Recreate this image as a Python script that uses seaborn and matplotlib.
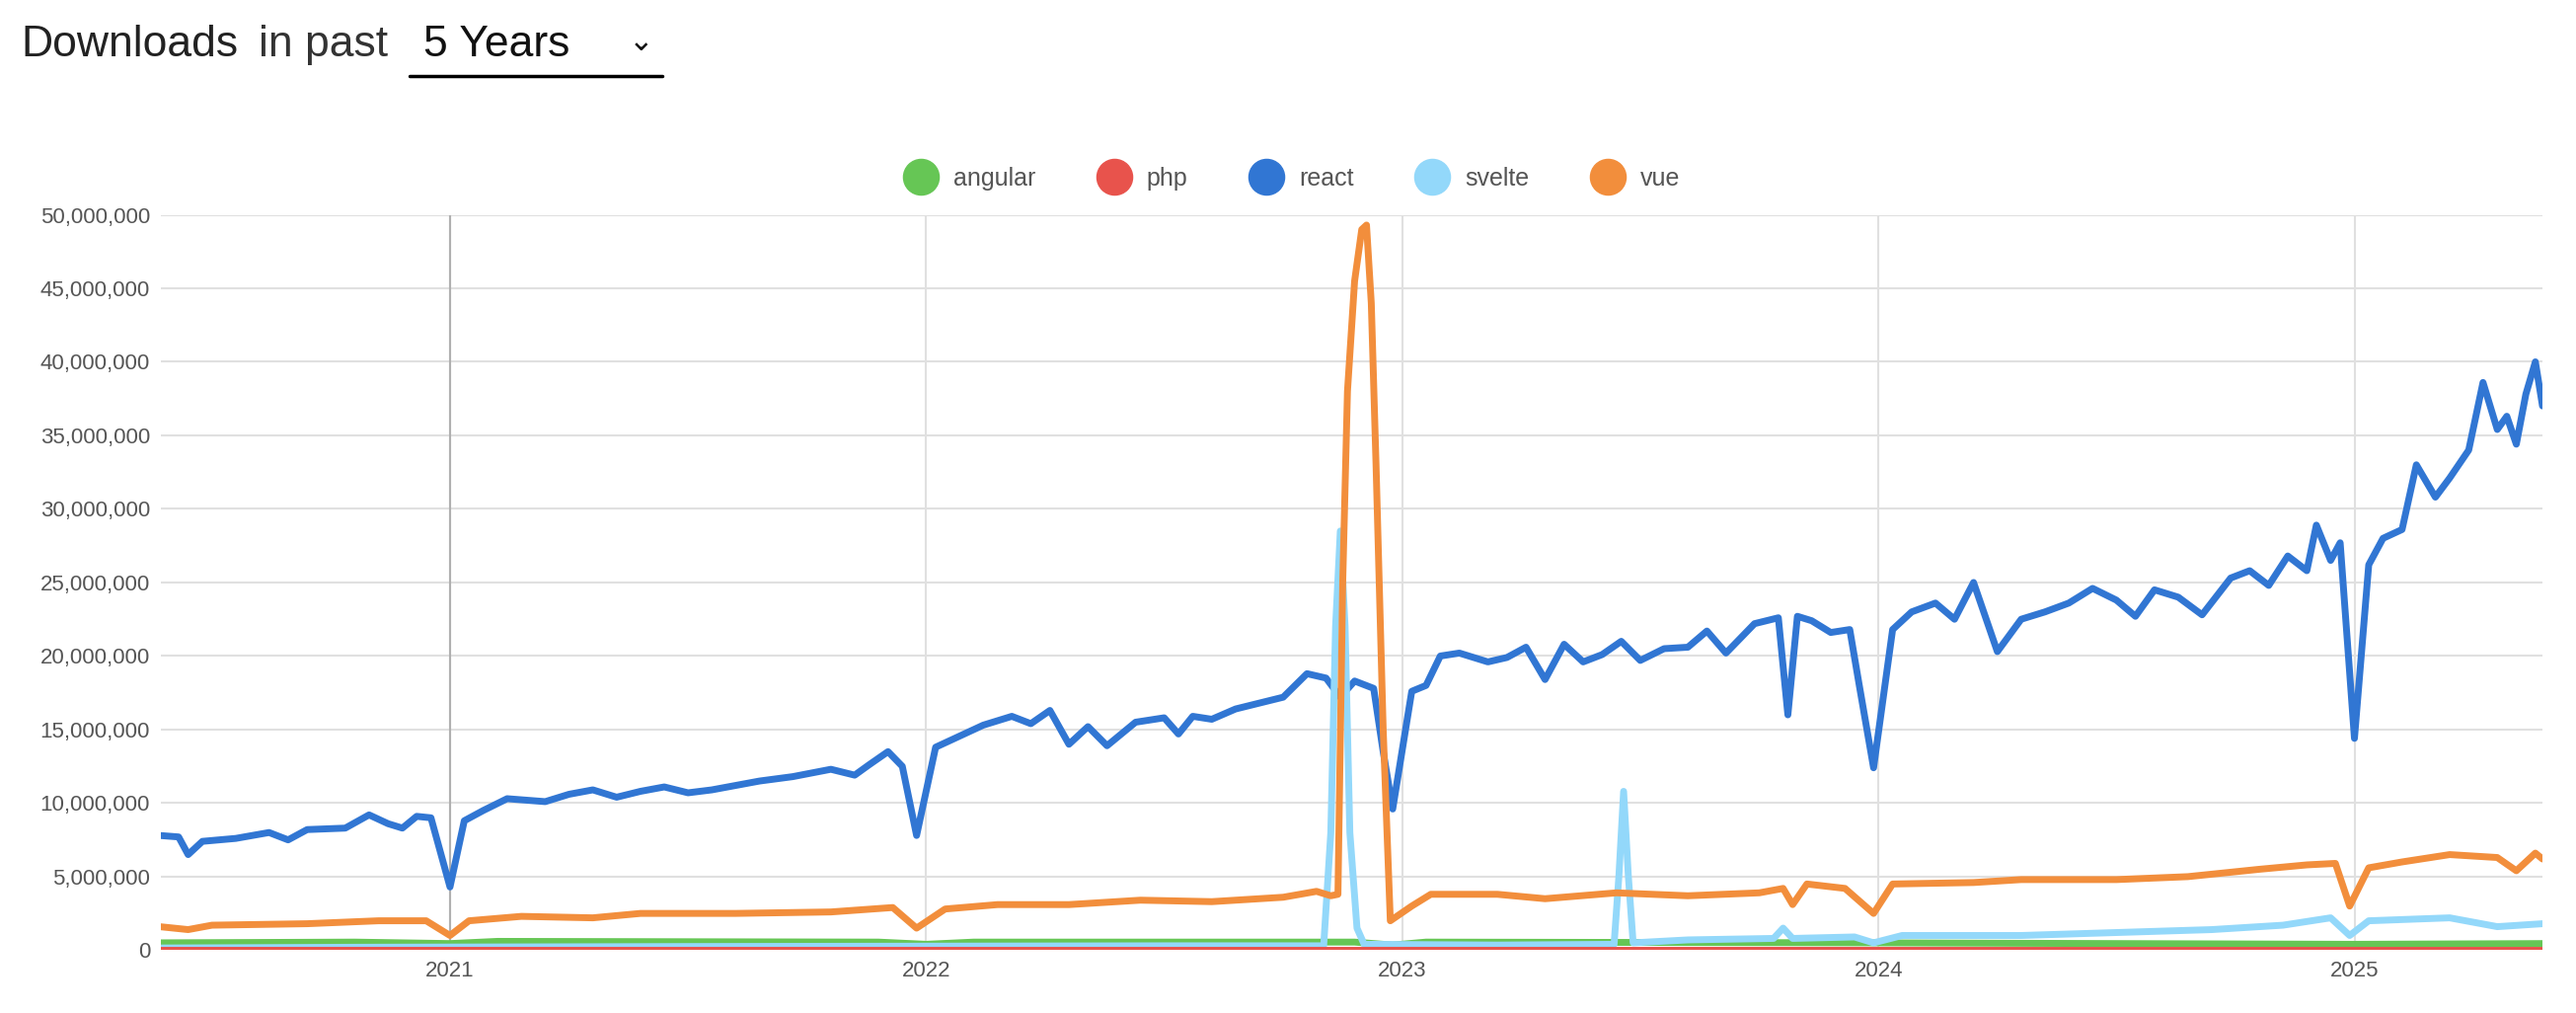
import matplotlib
matplotlib.use("Agg")
import matplotlib.pyplot as plt
import seaborn as sns
import pandas as pd
from matplotlib.ticker import FuncFormatter
from matplotlib.lines import Line2D

# (decimal year, millions of weekly downloads)
react_pts = [(2020.39,7.8),(2020.43,7.7),(2020.45,6.5),(2020.48,7.4),(2020.55,7.6),(2020.62,8.0),(2020.66,7.5),(2020.7,8.2),(2020.78,8.3),(2020.83,9.2),(2020.87,8.6),(2020.9,8.3),(2020.93,9.1),(2020.96,9.0),(2021.0,4.3),(2021.03,8.8),(2021.07,9.5),(2021.12,10.3),(2021.2,10.1),(2021.25,10.6),(2021.3,10.9),(2021.35,10.4),(2021.4,10.8),(2021.45,11.1),(2021.5,10.7),(2021.55,10.9),(2021.6,11.2),(2021.65,11.5),(2021.72,11.8),(2021.8,12.3),(2021.85,11.9),(2021.88,12.6),(2021.92,13.5),(2021.95,12.5),(2021.98,7.8),(2022.02,13.8),(2022.06,14.4),(2022.12,15.3),(2022.18,15.9),(2022.22,15.4),(2022.26,16.3),(2022.3,14.0),(2022.34,15.2),(2022.38,13.9),(2022.44,15.5),(2022.5,15.8),(2022.53,14.7),(2022.56,15.9),(2022.6,15.7),(2022.65,16.4),(2022.7,16.8),(2022.75,17.2),(2022.8,18.8),(2022.84,18.5),(2022.87,17.2),(2022.9,18.3),(2022.94,17.8),(2022.96,13.5),(2022.98,9.6),(2023.02,17.6),(2023.05,18.0),(2023.08,20.0),(2023.12,20.2),(2023.18,19.6),(2023.22,19.9),(2023.26,20.6),(2023.3,18.4),(2023.34,20.8),(2023.38,19.6),(2023.42,20.1),(2023.46,21.0),(2023.5,19.7),(2023.55,20.5),(2023.6,20.6),(2023.64,21.7),(2023.68,20.2),(2023.74,22.2),(2023.79,22.6),(2023.81,16.0),(2023.83,22.7),(2023.86,22.4),(2023.9,21.6),(2023.94,21.8),(2023.96,18.0),(2023.99,12.4),(2024.03,21.8),(2024.07,23.0),(2024.12,23.6),(2024.16,22.5),(2024.2,25.0),(2024.25,20.3),(2024.3,22.5),(2024.35,23.0),(2024.4,23.6),(2024.45,24.6),(2024.5,23.8),(2024.54,22.7),(2024.58,24.5),(2024.63,24.0),(2024.68,22.8),(2024.74,25.3),(2024.78,25.8),(2024.82,24.8),(2024.86,26.8),(2024.9,25.8),(2024.92,28.9),(2024.95,26.5),(2024.97,27.7),(2025.0,14.4),(2025.03,26.2),(2025.06,28.0),(2025.1,28.6),(2025.13,33.0),(2025.17,30.8),(2025.2,32.1),(2025.24,34.0),(2025.27,38.6),(2025.3,35.4),(2025.32,36.3),(2025.34,34.4),(2025.36,37.8),(2025.38,40.0),(2025.395,37.0)]
vue_pts = [(2020.39,1.6),(2020.45,1.4),(2020.5,1.7),(2020.7,1.8),(2020.85,2.0),(2020.95,2.0),(2021.0,1.0),(2021.04,2.0),(2021.15,2.3),(2021.3,2.2),(2021.4,2.5),(2021.6,2.5),(2021.8,2.6),(2021.93,2.9),(2021.98,1.5),(2022.04,2.8),(2022.15,3.1),(2022.3,3.1),(2022.45,3.4),(2022.6,3.3),(2022.75,3.6),(2022.82,4.0),(2022.85,3.7),(2022.865,3.8),(2022.875,25.0),(2022.885,38.0),(2022.9,45.5),(2022.915,49.0),(2022.925,49.3),(2022.935,44.0),(2022.945,33.0),(2022.96,15.0),(2022.975,2.0),(2023.02,3.0),(2023.06,3.8),(2023.2,3.8),(2023.3,3.5),(2023.45,3.9),(2023.6,3.7),(2023.75,3.9),(2023.8,4.2),(2023.82,3.1),(2023.85,4.5),(2023.93,4.2),(2023.99,2.5),(2024.03,4.5),(2024.2,4.6),(2024.3,4.8),(2024.5,4.8),(2024.65,5.0),(2024.8,5.5),(2024.9,5.8),(2024.96,5.9),(2024.99,3.0),(2025.03,5.6),(2025.1,6.0),(2025.2,6.5),(2025.3,6.3),(2025.34,5.4),(2025.38,6.6),(2025.395,6.2)]
svelte_pts = [(2020.39,0.15),(2020.8,0.2),(2021.5,0.25),(2022.5,0.3),(2022.835,0.3),(2022.85,8.0),(2022.86,22.0),(2022.87,28.5),(2022.88,22.0),(2022.89,8.0),(2022.905,1.5),(2022.92,0.4),(2023.2,0.35),(2023.445,0.4),(2023.455,5.0),(2023.465,10.8),(2023.475,5.0),(2023.485,0.5),(2023.6,0.7),(2023.78,0.8),(2023.8,1.5),(2023.82,0.8),(2023.95,0.9),(2023.99,0.5),(2024.05,1.0),(2024.3,1.0),(2024.5,1.2),(2024.7,1.4),(2024.85,1.7),(2024.95,2.2),(2024.99,1.0),(2025.03,2.0),(2025.2,2.2),(2025.3,1.6),(2025.395,1.8)]
angular_pts = [(2020.39,0.5),(2020.8,0.55),(2021.0,0.45),(2021.1,0.6),(2021.9,0.55),(2022.0,0.4),(2022.1,0.55),(2022.9,0.55),(2022.98,0.35),(2023.05,0.55),(2024.0,0.5),(2024.5,0.45),(2025.0,0.4),(2025.395,0.45)]
php_pts = [(2020.39,0.05),(2025.395,0.05)]

series_names = ["angular", "php", "react", "svelte", "vue"]
series_colors = ["#66c655", "#e8534c", "#3176d3", "#93d8fa", "#f28e3c"]
series_pts = [angular_pts, php_pts, react_pts, svelte_pts, vue_pts]
year_ticks = [2021, 2022, 2023, 2024, 2025]

rows = []
for name, pts in zip(series_names, series_pts):
    for t, v in pts:
        rows.append({"t": t, "downloads": v * 1e6, "pkg": name})
df = pd.DataFrame(rows)

sns.set_style("white")
plt.rcParams['font.family'] = ['Liberation Sans', 'DejaVu Sans']
fig = plt.figure(figsize=(26.1, 10.26), dpi=100)
ax = fig.add_axes([0.0625, 0.062, 0.9245, 0.726])
pal = dict(zip(series_names, series_colors))
for name in series_names:
    sub = df[df.pkg == name]
    sns.lineplot(data=sub, x="t", y="downloads", color=pal[name], lw=5, ax=ax, legend=False,
                 zorder=3 if name != "php" else 4, solid_joinstyle="round", solid_capstyle="round")

ax.set_xlim(2020.393, 2025.395)
ax.set_ylim(0, 50e6)
ax.set_yticks(range(0, 50_000_001, 5_000_000))
ax.yaxis.set_major_formatter(FuncFormatter(lambda v, p: f"{int(v):,}"))
ax.set_xticks(year_ticks)
ax.set_xticklabels([str(y) for y in year_ticks])
ax.grid(True, color="#e0e0e0", lw=1.5)
ax.set_axisbelow(True)
for s in ax.spines.values():
    s.set_visible(False)
ax.axvline(2021, color="#b0b0b0", lw=1.5, zorder=1)
ax.set_xlabel("")
ax.set_ylabel("")
ax.tick_params(axis="both", labelsize=16, colors="#555555", length=0, pad=8)

handles = [Line2D([], [], marker="o", ls="", ms=26, color=c) for c in series_colors]
fig.legend(handles, series_names, loc="center", bbox_to_anchor=(0.5, 0.824), ncol=5, frameon=False,
           fontsize=18, labelcolor="#555555", handletextpad=0.3, columnspacing=2.2)

fig.text(0.008, 0.956, "Downloads", fontsize=32, color="#222222", va="center")
fig.text(0.1005, 0.956, "in past", fontsize=32, color="#333333", va="center")
fig.text(0.1645, 0.956, "5 Years", fontsize=32, color="#111111", va="center")
fig.text(0.244, 0.958, "⌄", fontsize=22, color="#111111", va="center")
fig.add_artist(Line2D([0.159, 0.257], [0.925, 0.925], color="black", lw=2.5, transform=fig.transFigure))

fig.savefig("out.png", dpi=100, facecolor="white")
